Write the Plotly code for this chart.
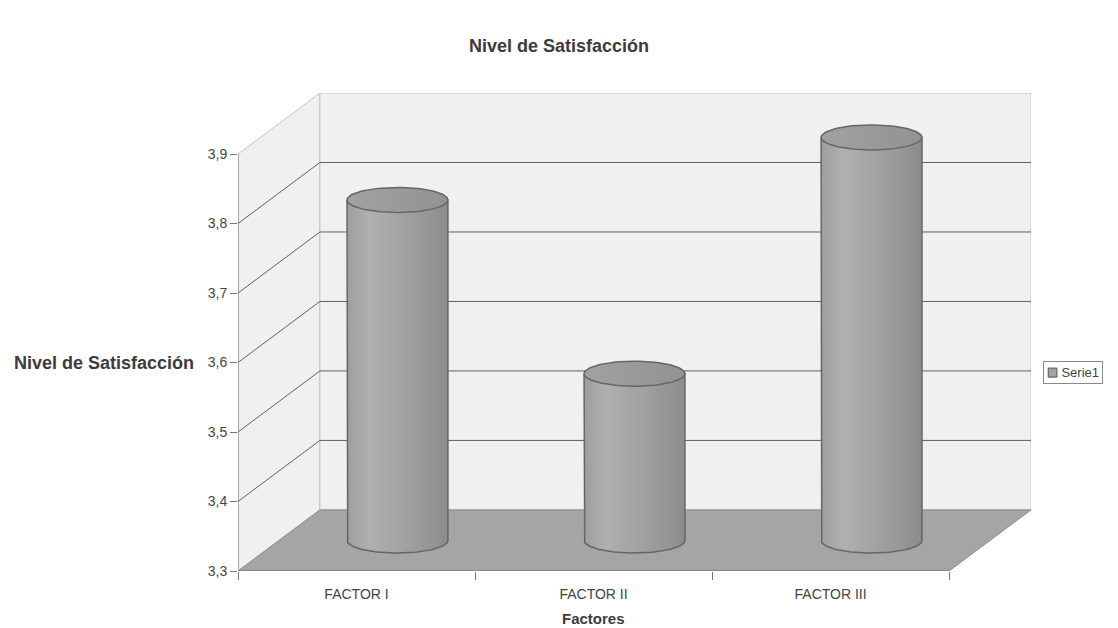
import numpy as np
import plotly.graph_objects as go

# ---- data -------------------------------------------------------------
categories = ["FACTOR I", "FACTOR II", "FACTOR III"]
values = [3.79, 3.54, 3.88]
y_ticks = [3.3, 3.4, 3.5, 3.6, 3.7, 3.8, 3.9]
series_name = "Serie1"

chart_title = "Nivel de Satisfacción"
x_title = "Factores"
y_title = "Nivel de Satisfacción"

# ---- 3D box geometry (in axis units) -----------------------------------
Y_MIN, Y_MAX = y_ticks[0], y_ticks[-1]
DX, DY = 0.3455, 0.0879      # depth offset from front plane to back wall
RX, RY = 0.2128, 0.018       # cylinder radius / ellipse half-height
X0, X1 = -0.5, len(categories) - 0.5

FONT = "Arial, Liberation Sans, sans-serif"
WALL = "#f0f0f0"
WALL_EDGE = "#c4c4c4"
FLOOR = "#a5a5a5"
GRID = "#606060"
OUTLINE = "#666666"
BAR_GREY = "#a2a2a2"

shapes = []


def path_shape(points, fill=None, line_color=GRID, width=1, closed=False):
    d = "M " + " L ".join(f"{x},{y}" for x, y in points)
    if closed:
        d += " Z"
    s = dict(type="path", path=d, xref="x", yref="y", layer="below",
             line=dict(color=line_color, width=width))
    if fill:
        s["fillcolor"] = fill
    return s


# left side wall
shapes.append(path_shape([(X0, Y_MIN), (X0 + DX, Y_MIN + DY), (X0 + DX, Y_MAX + DY), (X0, Y_MAX)],
                         fill=WALL, line_color=WALL_EDGE, closed=True))
# back wall
shapes.append(path_shape([(X0 + DX, Y_MIN + DY), (X1 + DX, Y_MIN + DY), (X1 + DX, Y_MAX + DY), (X0 + DX, Y_MAX + DY)],
                         fill=WALL, line_color=WALL_EDGE, closed=True))
# floor
shapes.append(path_shape([(X0, Y_MIN), (X1, Y_MIN), (X1 + DX, Y_MIN + DY), (X0 + DX, Y_MIN + DY)],
                         fill=FLOOR, line_color="#8c8c8c", closed=True))
# gridlines wrapping side wall and back wall
for v in y_ticks[1:-1]:
    shapes.append(path_shape([(X0, v), (X0 + DX, v + DY), (X1 + DX, v + DY)], line_color=GRID, width=1))
# front axis lines
shapes.append(path_shape([(X0, Y_MIN), (X0, Y_MAX)], line_color="#777777", width=1))
shapes.append(path_shape([(X0, Y_MIN), (X1, Y_MIN)], line_color="#777777", width=1))

# legend key: small bordered square next to the series name
LEG_X, LEG_Y = 1.0152, 0.415          # paper position of the legend box (left edge, middle)
shapes.append(dict(type="rect", xref="paper", yref="paper", layer="above",
                   x0=LEG_X + 0.0065, x1=LEG_X + 0.0175, y0=LEG_Y - 0.0095, y1=LEG_Y + 0.0095,
                   fillcolor=BAR_GREY, line=dict(color="#555555", width=1)))

fig = go.Figure()

body_scale = [[0.0, "#9e9e9e"], [0.22, "#b0b0b0"], [0.6, "#a0a0a0"], [1.0, "#8c8c8c"]]
top_scale = [[0.0, "#a2a2a2"], [1.0, "#929292"]]

front = np.linspace(np.pi, 2 * np.pi, 60)
ring = np.linspace(0, 2 * np.pi, 120)

for i, (cat, v) in enumerate(zip(categories, values)):
    cx = i + DX / 2
    base = Y_MIN + DY / 2
    top = v + DY / 2
    bx = cx + RX * np.cos(front)
    by = base + RY * np.sin(front)
    xs = [cx - RX] + list(bx) + [cx + RX, cx - RX]
    ys = [top] + list(by) + [top, top]
    fig.add_trace(go.Scatter(
        x=xs, y=ys, mode="lines", fill="toself",
        fillgradient=dict(type="horizontal", colorscale=body_scale),
        line=dict(color=OUTLINE, width=1.5),
        name=series_name, showlegend=False,
        hoverinfo="skip",
    ))
    fig.add_trace(go.Scatter(
        x=cx + RX * np.cos(ring), y=top + RY * np.sin(ring),
        mode="lines", fill="toself",
        fillgradient=dict(type="horizontal", colorscale=top_scale),
        line=dict(color=OUTLINE, width=1.5),
        name=series_name, showlegend=False,
        text=[f"{cat}: {v}"] * len(ring), hoverinfo="text",
    ))

fig.update_layout(
    width=1118, height=628,
    margin=dict(l=238, r=87, t=93, b=57, autoexpand=False),
    paper_bgcolor="white", plot_bgcolor="white",
    separators=",.",
    font=dict(family=FONT, color="#444444"),
    title=dict(text=f"<b>{chart_title}</b>", x=0.5, xref="container", xanchor="center",
               y=0.928, yanchor="middle", font=dict(size=18, color="#3c3c3c")),
    shapes=shapes,
    showlegend=False,
    xaxis=dict(range=[X0, X1 + DX], showgrid=False, zeroline=False, showline=False,
               tickmode="array", tickvals=list(range(len(categories))), ticktext=categories,
               ticks="", ticklabelstandoff=13, tickfont=dict(size=14, color="#444444"),
               minor=dict(ticks="outside", ticklen=8, tick0=X0, dtick=1, tickcolor="#777777",
                          showgrid=False)),
    yaxis=dict(range=[Y_MIN, Y_MAX + DY], showgrid=False, zeroline=False, showline=False,
               tickmode="array", tickvals=y_ticks, tickformat=".1f",
               ticks="outside", ticklen=7, tickcolor="#777777",
               tickfont=dict(size=14, color="#444444")),
    annotations=[
        dict(text=f"<b>{y_title}</b>", xref="paper", yref="y", x=-0.053, y=3.6,
             xanchor="right", yanchor="middle", showarrow=False,
             font=dict(size=18, color="#3c3c3c")),
        dict(text=f"<b>{x_title}</b>", xref="x", yref="paper", x=1, y=-0.10,
             xanchor="center", yanchor="middle", showarrow=False,
             font=dict(size=15, color="#3c3c3c")),
        # legend box with series name
        dict(text="&nbsp;&nbsp;&nbsp;&nbsp;" + series_name, xref="paper", yref="paper",
             x=LEG_X, y=LEG_Y, xanchor="left", yanchor="middle", showarrow=False,
             bordercolor="#8a8a8a", borderwidth=1, borderpad=3,
             bgcolor="rgba(0,0,0,0)", font=dict(size=13, color="#444444")),
    ],
)

fig.write_html("out.html")
